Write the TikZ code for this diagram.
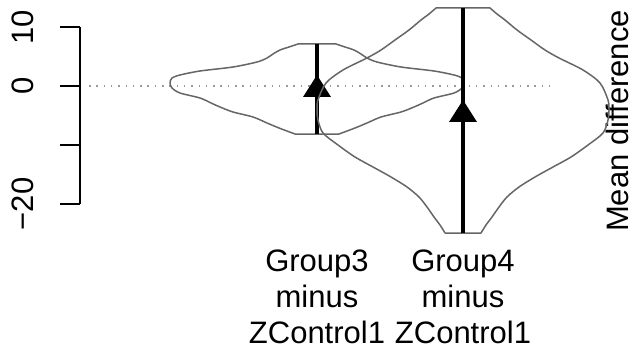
\documentclass[tikz,border=0pt]{standalone}
\usepackage{fontspec}
\setmainfont{Liberation Sans}
\usetikzlibrary{positioning}

\tikzset{
  violin/.style={draw=black!60, line width=1.5pt, line join=round},
  ci/.style={line width=4pt},
  axisline/.style={line width=2pt},
  zeroline/.style={draw=black!40, line width=1.6pt, dash pattern=on 1.5pt off 5.8pt},
  ticklab/.style={rotate=90, anchor=base, inner sep=0pt},
  grouplab/.style={anchor=base, inner sep=0pt},
  meanmark/.pic={\fill (0,0) -- (14,22) -- (-14,22) -- cycle;}
}

\begin{document}
\begin{tikzpicture}[x=1pt, y=-1pt, font=\fontsize{31}{37}\selectfont]
    \useasboundingbox (0,0) rectangle (634,350);

    % Axis
    \coordinate (ytop) at (80,27);
    \coordinate (ybot) at (80,204);
    \draw[axisline] (ytop) -- (ybot);
    \foreach \y in {27,86,145,204}
        \draw[axisline] (60,\y) -- (80,\y);
    \foreach \y/\t in {27/10, 86/0, 204/−20}
        \node[ticklab] (tl\y) at (33,\y) {\t};
    \node[ticklab] (ylab) at (628.5,121) {Mean difference};

    % Zero line
    \coordinate (zl) at (89,86);
    \coordinate (zr) at (554,86);
    \draw[zeroline] (zl) -- (zr);

    % Group3 violin
    \begin{scope}[shift={(317,0)}]
        \draw[violin] (-19,44) -- plot[smooth, tension=0.5] coordinates {
            (19,44) (28,47) (37,50) (44,54) (50,58) (60,62) (84,67) (117,71)
            (137,75) (145,78) (147,83) (145,88) (137,93) (117,98) (106,103)
            (97,107) (84,112) (64,117) (50,123) (38,128) (22,134)}
          -- plot[smooth, tension=0.5] coordinates {
            (-22,134) (-38,128) (-50,123) (-64,117) (-84,112) (-97,107)
            (-106,103) (-117,98) (-137,93) (-145,88) (-147,83) (-145,78)
            (-137,75) (-117,71) (-84,67) (-60,62) (-50,58) (-44,54) (-37,50)
            (-28,47) (-19,44)} -- cycle;
    \end{scope}
    \coordinate (ci3t) at (317,44);
    \coordinate (ci3b) at (317,134);
    \draw[ci] (ci3t) -- (ci3b);
    \pic at (317,75) {meanmark};

    % Group4 violin
    \begin{scope}[shift={(463,0)}]
        \draw[violin] (-27,8) -- plot[smooth, tension=0.5] coordinates {
            (27,8) (34,14) (42,20) (54,30) (68,40) (82,50) (96,58) (120,70)
            (137,83) (145,100) (146,110) (145,120) (140,133) (125,145)
            (108,157) (90,167) (72,177) (56,187) (44,197) (36,207) (29,217)
            (23,225) (18,233)}
          -- plot[smooth, tension=0.5] coordinates {
            (-18,233) (-23,225) (-29,217) (-36,207) (-44,197) (-56,187)
            (-72,177) (-90,167) (-108,157) (-125,145) (-140,133) (-145,120)
            (-146,110) (-145,100) (-137,83) (-120,70) (-96,58) (-82,50)
            (-68,40) (-54,30) (-42,20) (-34,14) (-27,8)} -- cycle;
    \end{scope}
    \coordinate (ci4t) at (463,8);
    \coordinate (ci4b) at (463,233);
    \draw[ci] (ci4t) -- (ci4b);
    \pic at (463,100) {meanmark};

    % Group labels
    \foreach \x/\g in {317/3, 463/4} {
        \node[grouplab] (g\g a) at (\x,271) {Group\g};
        \node[grouplab, below=36pt of g\g a.base, anchor=base] (g\g b) {minus};
        \node[grouplab, below=36pt of g\g b.base, anchor=base] (g\g c) {ZControl1};
    }

\end{tikzpicture}
\end{document}
